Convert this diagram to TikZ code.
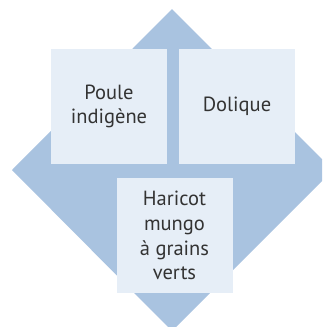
\documentclass[tikz,border=0pt]{standalone}
\usepackage{fontspec}
\setmainfont{PT Sans}
\definecolor{diam}{HTML}{A9C3E0}
\definecolor{boxfill}{HTML}{E6EEF7}
\definecolor{txt}{HTML}{333333}
\begin{document}
\begin{tikzpicture}[x=1pt,y=-1pt,
  cropbox/.style={fill=boxfill, draw=none, minimum width=116pt, minimum height=115pt, inner sep=0pt,
    align=center, text=txt, font=\fontsize{20.5}{24.8}\selectfont}]
\useasboundingbox (0,0) rectangle (322,327);
\begin{scope}
\clip (0,0) rectangle (322,327);
\fill[diam] (172,9) -- (333,170) -- (172,331) -- (12,170) -- cycle;
\end{scope}
\node[cropbox] (poule) at (109,106.5) {Poule\\indigène};
\node[cropbox] (dolique) at (237,106.5) {Dolique};
\node[cropbox] (haricot) at (174.5,235.5) {Haricot\\mungo\\à grains\\verts};
\end{tikzpicture}
\end{document}
